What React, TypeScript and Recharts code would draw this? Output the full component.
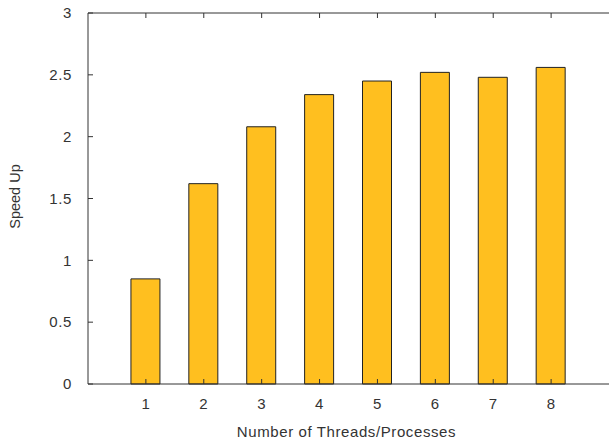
import { BarChart, Bar, XAxis, YAxis, Label } from "recharts";

const threads = [1, 2, 3, 4, 5, 6, 7, 8];
const speedUp = [0.85, 1.62, 2.08, 2.34, 2.45, 2.52, 2.48, 2.56];
const yTicks = [0, 0.5, 1, 1.5, 2, 2.5, 3];

const data = threads.map((t, i) => ({ threads: t, speedUp: speedUp[i] }));

const font = "'Liberation Sans', Arial, sans-serif";
const tickStyle = { fontSize: 15, fill: "#333", fontFamily: font, letterSpacing: 0.6 };
const axisColor = "#333";

const App = () => {
  return (
    <div style={{ position: "absolute", left: 0, top: 0, background: "#fff" }}>
      <BarChart
        width={609}
        height={445}
        data={data}
        margin={{ top: 12, right: -1, left: 28, bottom: 0 }}
      >
        <XAxis
          dataKey="threads"
          type="number"
          domain={[0, 9]}
          ticks={threads}
          tick={tickStyle}
          tickSize={-5}
          tickMargin={19}
          stroke={axisColor}
          height={61}
        >
          <Label
            value="Number of Threads/Processes"
            position="insideBottom"
            offset={8}
            dx={-2}
            style={{ fontSize: 15, fill: "#333", fontFamily: font, letterSpacing: 0.6 }}
          />
        </XAxis>
        <XAxis
          xAxisId="top"
          orientation="top"
          dataKey="threads"
          type="number"
          domain={[0, 9]}
          ticks={threads}
          tickFormatter={() => ""}
          tickSize={-5}
          stroke={axisColor}
          height={1}
        />
        <YAxis
          domain={[0, 3]}
          ticks={yTicks}
          tick={tickStyle}
          tickSize={-5}
          tickMargin={21}
          stroke={axisColor}
          width={60}
        >
          <Label
            content={(p: any) => {
              const vb = p.viewBox;
              const cx = 20;
              const cy = vb.y + vb.height / 2 - 2;
              return (
                <text
                  x={cx}
                  y={cy}
                  transform={`rotate(-90, ${cx}, ${cy})`}
                  textAnchor="middle"
                  style={{ fontSize: 14.5, fill: "#333", fontFamily: font }}
                >
                  Speed Up
                </text>
              );
            }}
          />
        </YAxis>
        {/* right border sits just off the canvas, only its ticks show */}
        <YAxis
          yAxisId="right"
          orientation="right"
          domain={[0, 3]}
          ticks={yTicks}
          tickFormatter={() => ""}
          tickSize={-5}
          axisLine={false}
          stroke={axisColor}
          width={1}
        />
        <Bar
          dataKey="speedUp"
          fill="#ffbf1f"
          stroke="#222"
          strokeWidth={1}
          barSize={29}
          isAnimationActive={false}
        />
      </BarChart>
    </div>
  );
};

export default App;
